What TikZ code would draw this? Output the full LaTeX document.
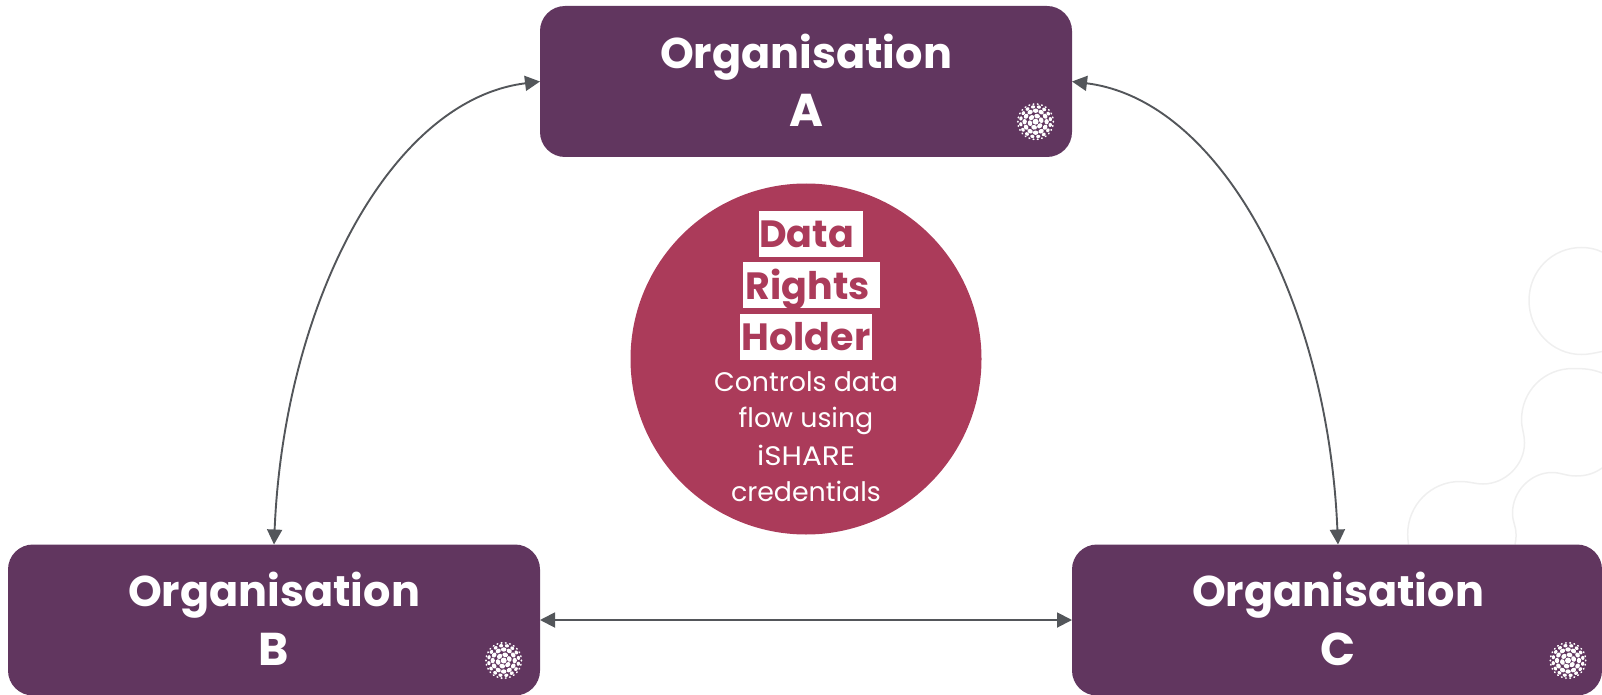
\documentclass[tikz,border=0pt]{standalone}
\usepackage{fontspec}
\setmainfont{Poppins}
\usetikzlibrary{arrows.meta}
\definecolor{orgpurple}{HTML}{61365F}
\definecolor{drhred}{HTML}{AB3B5A}
\definecolor{arrowgrey}{HTML}{53565A}
\definecolor{decograyline}{HTML}{EFEFEF}
\tikzset{
  orgbox/.style={fill=orgpurple,rounded corners=25pt,minimum width=532pt,minimum height=151pt,inner sep=0pt,outer sep=0pt},
  orgtitle/.style={text=white,anchor=base,inner sep=0pt,font=\fontsize{43}{43}\selectfont\bfseries},
  orgletter/.style={text=white,anchor=base,inner sep=0pt,font=\fontsize{46}{46}\selectfont\bfseries},
  hlbox/.style={fill=white,minimum height=45.7pt,inner sep=0pt,outer sep=0pt},
  hltext/.style={text=drhred,anchor=base,inner sep=0pt,font=\fontsize{38}{38}\selectfont\bfseries},
  bodytext/.style={text=white,anchor=base,inner sep=0pt,font=\fontsize{26.8}{26.8}\selectfont},
  link/.style={draw=arrowgrey,line width=1.9pt,{Triangle[length=15pt,width=15pt]}-{Triangle[length=15pt,width=15pt]}},
  deco/.style={draw=decograyline,line width=1.5pt},
  pics/ballicon/.style={code={
    \fill[white] (0,0) circle (3pt);
    \foreach \r/\n/\o/\s in {5.8/6/15/2.9,11/12/0/2.75,15/16/10/2.1,17.7/26/0/1.2}{
      \foreach \k in {1,...,\n}{
        \pgfmathsetmacro{\a}{\o+\k*360/\n}
        \fill[white,rotate=\a] (\r pt,0) ellipse ({0.8*\s pt} and {\s pt});
      }
    }
  }}
}
\begin{document}
\begin{tikzpicture}[x=1pt,y=-1pt]
\useasboundingbox (0,0) rectangle (1602,695);
% decorative outlines
\draw[deco] (1602,351.5) .. controls (1595,353) and (1588,354.5) .. (1581.5,354.5)
  .. controls (1552,354.5) and (1529,330) .. (1529,300.5)
  .. controls (1529,271) and (1552,247.5) .. (1581.5,247.5)
  .. controls (1589,247.5) and (1596,249) .. (1602,252);
\draw[deco] (1602,373) .. controls (1593,369.5) and (1586,368.5) .. (1573,368.5)
  .. controls (1544,368.5) and (1521.5,391) .. (1521.5,420)
  .. controls (1521.5,428) and (1524.5,434) .. (1524.5,443)
  .. controls (1524.5,465) and (1505,484) .. (1483,484)
  .. controls (1475,484) and (1470,481.5) .. (1460,481.5)
  .. controls (1431,481.5) and (1407.7,505) .. (1407.7,534)
  .. controls (1407.7,538) and (1408,541) .. (1408.5,544.5);
\draw[deco] (1515,544.5) .. controls (1516,541) and (1516,538) .. (1516,534)
  .. controls (1516,526) and (1512.5,522) .. (1512.5,513)
  .. controls (1512.5,491) and (1531,472.5) .. (1552,472.5)
  .. controls (1561,472.5) and (1566,476) .. (1576,476)
  .. controls (1587,476) and (1595,473) .. (1602,468);
% boxes
\node[orgbox] (orgA) at (806,81.5) {};
\node[orgbox] (orgB) at (274,620) {};
\node[orgbox,minimum width=530pt] (orgC) at (1337,620) {};
\node[orgtitle] (titleA) at (806,68.5) {Organisation};
\node[orgletter] (letterA) at (806,127) {A};
\node[orgtitle] (titleB) at (274,606.5) {Organisation};
\node[orgletter] (letterB) at (274,665) {B};
\node[orgtitle] (titleC) at (1338,606.5) {Organisation};
\node[orgletter] (letterC) at (1338,665) {C};
\pic at (1035.6,121.7) {ballicon};
\pic at (503.7,660.5) {ballicon};
\pic at (1568,660.5) {ballicon};
% circle
\node[circle,fill=drhred,minimum size=351pt,inner sep=0pt,outer sep=0pt] (drh) at (806,359) {};
\node[hlbox,minimum width=104pt] (hlData) at (811,233.8) {};
\node[hlbox,minimum width=137pt] (hlRights) at (811.5,284.8) {};
\node[hlbox,minimum width=132pt] (hlHolder) at (806,336.8) {};
\node[hltext] (tData) at (806.5,247.5) {Data};
\node[hltext] (tRights) at (808,299) {Rights};
\node[hltext] (tHolder) at (806,350.5) {Holder};
\node[bodytext] (b1) at (806,391) {Controls data};
\node[bodytext] (b2) at (806,427.7) {flow using};
\node[bodytext] (b3) at (806,465) {\scalebox{1.1}[1]{iSHARE}};
\node[bodytext] (b4) at (806,501.7) {credentials};
% connectors
\draw[link] (orgA.west) .. controls (390,100) and (284,304) .. (orgB.north);
\draw[link] (orgA.east) .. controls (1222,100) and (1328,304) .. (orgC.north -| letterC.base);
\draw[link] (orgB.east) -- (orgC.west);
\end{tikzpicture}
\end{document}
